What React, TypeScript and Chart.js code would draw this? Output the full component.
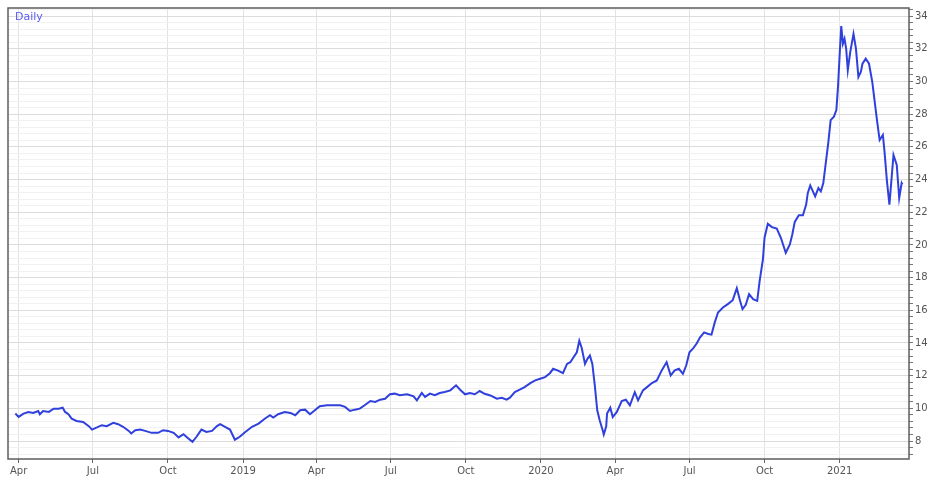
import React, { useEffect, useRef } from "react";
import { Chart, registerables } from "chart.js";

Chart.register(...registerables);

const seriesLabel = "Daily";

const dates = [
  "2018-03-28", "2018-04-01", "2018-04-07", "2018-04-13", "2018-04-19", "2018-04-25", "2018-04-27",
  "2018-05-01", "2018-05-08", "2018-05-14", "2018-05-20", "2018-05-25", "2018-05-28", "2018-06-01",
  "2018-06-05", "2018-06-11", "2018-06-19", "2018-06-26", "2018-06-30", "2018-07-06", "2018-07-12",
  "2018-07-18", "2018-07-26", "2018-08-01", "2018-08-07", "2018-08-14", "2018-08-17", "2018-08-22",
  "2018-08-28", "2018-09-03", "2018-09-11", "2018-09-19", "2018-09-25", "2018-10-01", "2018-10-08",
  "2018-10-14", "2018-10-20", "2018-10-26", "2018-10-31", "2018-11-05", "2018-11-11", "2018-11-17",
  "2018-11-24", "2018-11-30", "2018-12-04", "2018-12-10", "2018-12-16", "2018-12-22", "2018-12-28",
  "2019-01-03", "2019-01-12", "2019-01-20", "2019-01-28", "2019-02-03", "2019-02-07", "2019-02-13",
  "2019-02-21", "2019-02-28", "2019-03-06", "2019-03-12", "2019-03-18", "2019-03-24", "2019-03-30",
  "2019-04-05", "2019-04-14", "2019-04-22", "2019-04-30", "2019-05-06", "2019-05-12", "2019-05-18",
  "2019-05-24", "2019-05-30", "2019-06-06", "2019-06-12", "2019-06-18", "2019-06-24", "2019-06-30",
  "2019-07-06", "2019-07-12", "2019-07-21", "2019-07-29", "2019-08-02", "2019-08-08", "2019-08-12",
  "2019-08-18", "2019-08-24", "2019-08-30", "2019-09-05", "2019-09-12", "2019-09-19", "2019-09-24",
  "2019-09-30", "2019-10-06", "2019-10-12", "2019-10-18", "2019-10-24", "2019-10-31", "2019-11-08",
  "2019-11-14", "2019-11-20", "2019-11-24", "2019-11-30", "2019-12-06", "2019-12-12", "2019-12-19",
  "2019-12-25", "2019-12-31", "2020-01-06", "2020-01-12", "2020-01-16", "2020-01-22", "2020-01-28",
  "2020-02-02", "2020-02-06", "2020-02-10", "2020-02-14", "2020-02-17", "2020-02-20", "2020-02-24",
  "2020-02-27", "2020-03-01", "2020-03-04", "2020-03-07", "2020-03-10", "2020-03-13", "2020-03-17",
  "2020-03-18", "2020-03-21", "2020-03-22", "2020-03-26", "2020-03-29", "2020-04-03", "2020-04-09",
  "2020-04-14", "2020-04-19", "2020-04-25", "2020-04-29", "2020-05-05", "2020-05-10", "2020-05-16",
  "2020-05-22", "2020-05-28", "2020-06-03", "2020-06-08", "2020-06-13", "2020-06-18", "2020-06-23",
  "2020-06-27", "2020-07-01", "2020-07-06", "2020-07-10", "2020-07-14", "2020-07-19", "2020-07-24",
  "2020-07-28", "2020-08-01", "2020-08-05", "2020-08-11", "2020-08-17", "2020-08-23", "2020-08-28",
  "2020-09-01", "2020-09-04", "2020-09-08", "2020-09-12", "2020-09-17", "2020-09-22", "2020-09-25",
  "2020-09-29", "2020-10-01", "2020-10-05", "2020-10-10", "2020-10-16", "2020-10-21", "2020-10-27",
  "2020-11-01", "2020-11-04", "2020-11-07", "2020-11-12", "2020-11-17", "2020-11-21", "2020-11-23",
  "2020-11-26", "2020-12-02", "2020-12-06", "2020-12-09", "2020-12-12", "2020-12-15", "2020-12-18",
  "2020-12-21", "2020-12-25", "2020-12-28", "2020-12-30", "2021-01-01", "2021-01-03", "2021-01-05",
  "2021-01-07", "2021-01-09", "2021-01-11", "2021-01-14", "2021-01-18", "2021-01-21", "2021-01-24",
  "2021-01-27", "2021-01-29", "2021-02-02", "2021-02-06", "2021-02-10", "2021-02-13", "2021-02-16",
  "2021-02-19", "2021-02-23", "2021-02-25", "2021-02-28", "2021-03-03", "2021-03-06", "2021-03-08",
  "2021-03-12", "2021-03-15", "2021-03-18", "2021-03-19",
];

const prices = [
  9.68, 9.48, 9.68, 9.78, 9.72, 9.84, 9.64,
  9.84, 9.78, 9.98, 9.98, 10.04, 9.78, 9.64,
  9.37, 9.23, 9.17, 8.91, 8.70, 8.83, 8.97,
  8.91, 9.11, 9.03, 8.87, 8.62, 8.46, 8.66,
  8.70, 8.62, 8.50, 8.50, 8.66, 8.62, 8.50,
  8.22, 8.42, 8.16, 7.95, 8.26, 8.70, 8.56,
  8.62, 8.91, 9.03, 8.87, 8.70, 8.08, 8.26,
  8.52, 8.87, 9.07, 9.38, 9.58, 9.44, 9.64,
  9.78, 9.72, 9.58, 9.88, 9.92, 9.64, 9.88,
  10.13, 10.19, 10.19, 10.19, 10.09, 9.84, 9.92,
  9.98, 10.19, 10.45, 10.39, 10.53, 10.59, 10.86,
  10.90, 10.80, 10.86, 10.74, 10.49, 10.94, 10.70,
  10.90, 10.80, 10.94, 11.00, 11.10, 11.41, 11.14,
  10.86, 10.94, 10.86, 11.06, 10.89, 10.79, 10.59,
  10.65, 10.53, 10.65, 10.99, 11.14, 11.30, 11.54,
  11.71, 11.81, 11.91, 12.15, 12.42, 12.31, 12.15,
  12.72, 12.82, 13.13, 13.43, 14.14, 13.69, 12.72,
  13.03, 13.23, 12.72, 11.40, 9.88, 9.27, 8.60,
  8.40, 8.90, 9.68, 10.04, 9.47, 9.78, 10.45,
  10.53, 10.18, 10.99, 10.49, 11.10, 11.30, 11.55,
  11.71, 12.32, 12.83, 12.01, 12.32, 12.42, 12.11,
  12.62, 13.43, 13.70, 13.98, 14.35, 14.65, 14.55,
  14.51, 15.26, 15.87, 16.17, 16.38, 16.62, 17.35,
  16.58, 16.07, 16.34, 16.99, 16.68, 16.58, 17.80,
  19.12, 20.44, 21.29, 21.09, 21.00, 20.44, 19.52,
  20.03, 20.64, 21.41, 21.82, 21.82, 22.47, 23.18,
  23.64, 22.97, 23.48, 23.28, 23.79, 25.00, 26.22,
  27.64, 27.85, 28.25, 29.67, 31.60, 33.39, 32.31,
  32.62, 32.01, 30.69, 31.80, 32.92, 32.01, 30.28,
  30.59, 31.09, 31.40, 31.09, 29.98, 28.76, 27.54,
  26.42, 26.73, 25.71, 23.89, 22.47, 24.29, 25.51,
  24.90, 22.87, 23.79, 23.70,
];

const xTickDates = [
  "2018-04-01", "2018-07-01", "2018-10-01", "2019-01-01",
  "2019-04-01", "2019-07-01", "2019-10-01", "2020-01-01",
  "2020-04-01", "2020-07-01", "2020-10-01", "2021-01-01",
];
const xTickLabels = ["Apr", "Jul", "Oct", "2019", "Apr", "Jul", "Oct", "2020", "Apr", "Jul", "Oct", "2021"];
const yTickLabels = [8, 10, 12, 14, 16, 18, 20, 22, 24, 26, 28, 30, 32, 34];

const xStart = "2018-03-19";
const xEnd = "2021-03-27";
const yMin = 6.9;
const yMax = 34.5;

const toDay = (s: string) => {
  const [y, m, d] = s.split("-").map(Number);
  return Date.UTC(y, m - 1, d) / 86400000;
};

export default function App() {
  const ref = useRef<HTMLCanvasElement | null>(null);

  useEffect(() => {
    if (!ref.current) return;
    const tickDays = xTickDates.map(toDay);
    const isMajor = (v: number) => yTickLabels.some((t) => Math.abs(t - v) < 1e-6);
    const yTicks: number[] = [];
    for (let k = Math.ceil(yMin / 0.4); k <= Math.floor(yMax / 0.4); k++) {
      yTicks.push(Math.round(k * 4) / 10);
    }

    const framePlugin = {
      id: "frame",
      afterDraw(chart: any) {
        const { ctx, chartArea } = chart;
        ctx.save();
        ctx.strokeStyle = "#5e5e5e";
        ctx.lineWidth = 1.5;
        ctx.strokeRect(chartArea.left, chartArea.top, chartArea.right - chartArea.left, chartArea.bottom - chartArea.top);
        ctx.fillStyle = "#5a5af2";
        ctx.font = "11px 'DejaVu Sans'";
        ctx.textBaseline = "alphabetic";
        ctx.fillText(seriesLabel, chartArea.left + 7, chartArea.top + 12);
        ctx.restore();
      },
    };

    const chart = new Chart(ref.current, {
      type: "line",
      data: {
        datasets: [
          {
            label: seriesLabel,
            data: dates.map((d, i) => ({ x: toDay(d), y: prices[i] })),
            borderColor: "#3040dc",
            borderWidth: 2,
            pointRadius: 0,
            tension: 0,
            fill: false,
          },
        ],
      },
      options: {
        responsive: false,
        animation: false,
        layout: { padding: { left: 8, top: 6, right: 0, bottom: 0 } },
        plugins: { legend: { display: false }, tooltip: { enabled: false } },
        scales: {
          x: {
            type: "linear",
            min: toDay(xStart),
            max: toDay(xEnd),
            afterBuildTicks: (axis: any) => {
              axis.ticks = tickDays.map((v) => ({ value: v }));
            },
            afterFit: (s: any) => {
              s.height = 28;
            },
            ticks: {
              autoSkip: false,
              maxRotation: 0,
              padding: 2,
              color: "#555",
              font: { family: "DejaVu Sans", size: 10 },
              callback: (v: any) => {
                const i = tickDays.indexOf(Number(v));
                return i >= 0 ? xTickLabels[i] : "";
              },
            },
            grid: { color: "#e2e2e2", lineWidth: 1, tickLength: 4, tickColor: "#666" },
            border: { display: false },
          },
          y: {
            type: "linear",
            position: "right",
            min: yMin,
            max: yMax,
            afterBuildTicks: (axis: any) => {
              axis.ticks = yTicks.map((v) => ({ value: v }));
            },
            afterFit: (s: any) => {
              s.width = 32;
            },
            ticks: {
              autoSkip: false,
              padding: 2,
              color: "#555",
              font: { family: "DejaVu Sans", size: 10 },
              callback: (v: any) => (isMajor(Number(v)) ? String(Math.round(Number(v))) : ""),
            },
            grid: {
              color: (c: any) => (c.tick && isMajor(c.tick.value) ? "#dcdcdc" : "#f1f1f1"),
              lineWidth: 1,
              tickLength: 4,
              tickColor: "#777",
            },
            border: { display: false },
          },
        },
      },
      plugins: [framePlugin],
    } as any);

    return () => chart.destroy();
  }, []);

  return (
    <div style={{ position: "fixed", left: 0, top: 0, width: 941, height: 487, background: "#fff" }}>
      <canvas ref={ref} width={941} height={487} />
    </div>
  );
}
